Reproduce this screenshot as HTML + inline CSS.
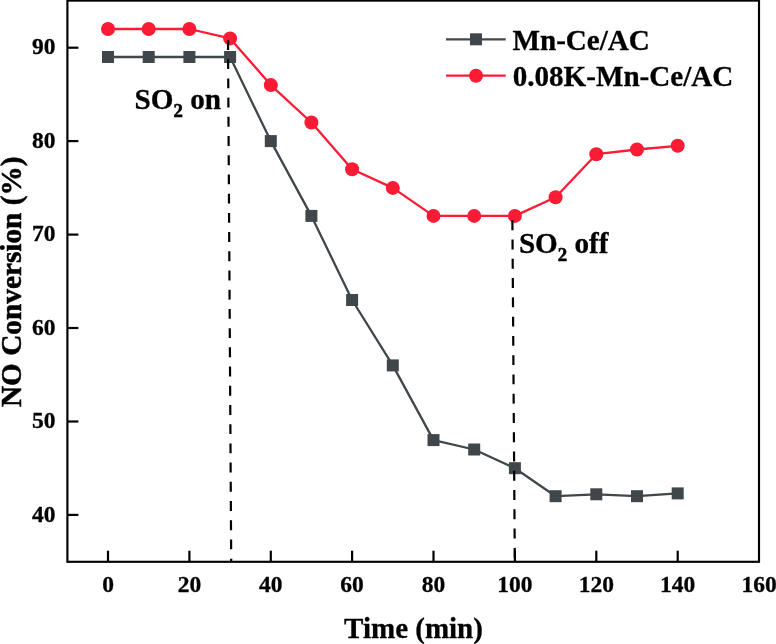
<!DOCTYPE html>
<html><head><meta charset="utf-8"><title>NO Conversion</title>
<style>
html,body{margin:0;padding:0;background:#fff;}
body{width:776px;height:644px;overflow:hidden;}
svg{display:block;}
text,tspan{font-family:"Liberation Serif",serif;font-weight:bold;fill:#000;stroke:#000;stroke-width:0.3px;}
.yl{stroke-width:0.5px;}
.sub{stroke-width:0.6px;}
</style></head><body>
<svg width="776" height="644" viewBox="0 0 776 644">
<rect width="776" height="644" fill="#fff"/>
<polyline points="108.0,57.0 148.7,57.0 189.4,57.0 230.1,57.0 270.8,141.1 311.4,215.9 352.1,300.0 392.8,365.4 433.5,440.1 474.2,449.5 514.9,468.2 555.6,496.2 596.3,494.3 637.0,496.2 677.7,493.4" fill="none" stroke="#40474a" stroke-width="2.3" stroke-linejoin="round"/>
<rect x="102.0" y="51.0" width="12" height="12" fill="#40474a"/>
<rect x="142.7" y="51.0" width="12" height="12" fill="#40474a"/>
<rect x="183.4" y="51.0" width="12" height="12" fill="#40474a"/>
<rect x="224.1" y="51.0" width="12" height="12" fill="#40474a"/>
<rect x="264.8" y="135.1" width="12" height="12" fill="#40474a"/>
<rect x="305.4" y="209.9" width="12" height="12" fill="#40474a"/>
<rect x="346.1" y="294.0" width="12" height="12" fill="#40474a"/>
<rect x="386.8" y="359.4" width="12" height="12" fill="#40474a"/>
<rect x="427.5" y="434.1" width="12" height="12" fill="#40474a"/>
<rect x="468.2" y="443.5" width="12" height="12" fill="#40474a"/>
<rect x="508.9" y="462.2" width="12" height="12" fill="#40474a"/>
<rect x="549.6" y="490.2" width="12" height="12" fill="#40474a"/>
<rect x="590.3" y="488.3" width="12" height="12" fill="#40474a"/>
<rect x="631.0" y="490.2" width="12" height="12" fill="#40474a"/>
<rect x="671.7" y="487.4" width="12" height="12" fill="#40474a"/>
<polyline points="108.0,29.0 148.7,29.0 189.4,29.0 230.1,38.4 270.8,85.1 311.4,122.5 352.1,169.2 392.8,187.9 433.5,215.9 474.2,215.9 514.9,215.9 555.6,197.2 596.3,154.2 637.0,149.5 677.7,145.8" fill="none" stroke="#fc1b34" stroke-width="2.3" stroke-linejoin="round"/>
<circle cx="108.0" cy="29.0" r="7" fill="#fc1b34"/>
<circle cx="148.7" cy="29.0" r="7" fill="#fc1b34"/>
<circle cx="189.4" cy="29.0" r="7" fill="#fc1b34"/>
<circle cx="230.1" cy="38.4" r="7" fill="#fc1b34"/>
<circle cx="270.8" cy="85.1" r="7" fill="#fc1b34"/>
<circle cx="311.4" cy="122.5" r="7" fill="#fc1b34"/>
<circle cx="352.1" cy="169.2" r="7" fill="#fc1b34"/>
<circle cx="392.8" cy="187.9" r="7" fill="#fc1b34"/>
<circle cx="433.5" cy="215.9" r="7" fill="#fc1b34"/>
<circle cx="474.2" cy="215.9" r="7" fill="#fc1b34"/>
<circle cx="514.9" cy="215.9" r="7" fill="#fc1b34"/>
<circle cx="555.6" cy="197.2" r="7" fill="#fc1b34"/>
<circle cx="596.3" cy="154.2" r="7" fill="#fc1b34"/>
<circle cx="637.0" cy="149.5" r="7" fill="#fc1b34"/>
<circle cx="677.7" cy="145.8" r="7" fill="#fc1b34"/>
<line x1="228" y1="40" x2="231.2" y2="561" stroke="#000" stroke-width="2.2" stroke-dasharray="9.9 9.31"/>
<line x1="512.4" y1="220.3" x2="514.8" y2="561" stroke="#000" stroke-width="2.2" stroke-dasharray="9.9 9.37"/>
<rect x="67.4" y="0.6" width="691.6" height="561.1999999999999" fill="none" stroke="#000" stroke-width="2.15"/>
<line x1="108.0" y1="561.8" x2="108.0" y2="550.7" stroke="#000" stroke-width="2.2"/>
<line x1="189.4" y1="561.8" x2="189.4" y2="550.7" stroke="#000" stroke-width="2.2"/>
<line x1="270.8" y1="561.8" x2="270.8" y2="550.7" stroke="#000" stroke-width="2.2"/>
<line x1="352.1" y1="561.8" x2="352.1" y2="550.7" stroke="#000" stroke-width="2.2"/>
<line x1="433.5" y1="561.8" x2="433.5" y2="550.7" stroke="#000" stroke-width="2.2"/>
<line x1="514.9" y1="561.8" x2="514.9" y2="550.7" stroke="#000" stroke-width="2.2"/>
<line x1="596.3" y1="561.8" x2="596.3" y2="550.7" stroke="#000" stroke-width="2.2"/>
<line x1="677.7" y1="561.8" x2="677.7" y2="550.7" stroke="#000" stroke-width="2.2"/>
<line x1="67.4" y1="514.9" x2="78.4" y2="514.9" stroke="#000" stroke-width="2.2"/>
<line x1="67.4" y1="421.5" x2="78.4" y2="421.5" stroke="#000" stroke-width="2.2"/>
<line x1="67.4" y1="328.0" x2="78.4" y2="328.0" stroke="#000" stroke-width="2.2"/>
<line x1="67.4" y1="234.6" x2="78.4" y2="234.6" stroke="#000" stroke-width="2.2"/>
<line x1="67.4" y1="141.1" x2="78.4" y2="141.1" stroke="#000" stroke-width="2.2"/>
<line x1="67.4" y1="47.7" x2="78.4" y2="47.7" stroke="#000" stroke-width="2.2"/>
<text x="108.0" y="592.0" font-size="23.5" text-anchor="middle">0</text>
<text x="189.4" y="592.0" font-size="23.5" text-anchor="middle">20</text>
<text x="270.8" y="592.0" font-size="23.5" text-anchor="middle">40</text>
<text x="352.1" y="592.0" font-size="23.5" text-anchor="middle">60</text>
<text x="433.5" y="592.0" font-size="23.5" text-anchor="middle">80</text>
<text x="514.9" y="592.0" font-size="23.5" text-anchor="middle">100</text>
<text x="596.3" y="592.0" font-size="23.5" text-anchor="middle">120</text>
<text x="677.7" y="592.0" font-size="23.5" text-anchor="middle">140</text>
<text x="759.0" y="592.0" font-size="23.5" text-anchor="middle">160</text>
<text x="55.5" y="521.5" font-size="23.5" text-anchor="end">40</text>
<text x="55.5" y="428.1" font-size="23.5" text-anchor="end">50</text>
<text x="55.5" y="334.6" font-size="23.5" text-anchor="end">60</text>
<text x="55.5" y="241.2" font-size="23.5" text-anchor="end">70</text>
<text x="55.5" y="147.7" font-size="23.5" text-anchor="end">80</text>
<text x="55.5" y="54.3" font-size="23.5" text-anchor="end">90</text>
<text x="413.5" y="637.8" font-size="29.0" text-anchor="middle">Time (min)</text>
<text transform="translate(21.0,281.8) rotate(-90)" font-size="29.3" text-anchor="middle" class="yl">NO Conversion (%)</text>
<text x="134.6" y="109.2" font-size="29.2">SO<tspan font-size="18.8" dy="7.5" class="sub">2</tspan><tspan dy="-7.5"> on</tspan></text>
<text x="518.9" y="253.4" font-size="29.2">SO<tspan font-size="18.8" dy="7.5" class="sub">2</tspan><tspan dy="-7.5"> off</tspan></text>
<line x1="446" y1="39.3" x2="505.7" y2="39.3" stroke="#40474a" stroke-width="2.3"/>
<rect x="470" y="33.3" width="12" height="12" fill="#40474a"/>
<line x1="446" y1="75.7" x2="505.7" y2="75.7" stroke="#fc1b34" stroke-width="2.3"/>
<circle cx="476" cy="75.7" r="7" fill="#fc1b34"/>
<text x="512.5" y="50.1" font-size="29.1">Mn-Ce/AC</text>
<text x="512.7" y="86.3" font-size="29.1">0.08K-Mn-Ce/AC</text>
</svg>
</body></html>
